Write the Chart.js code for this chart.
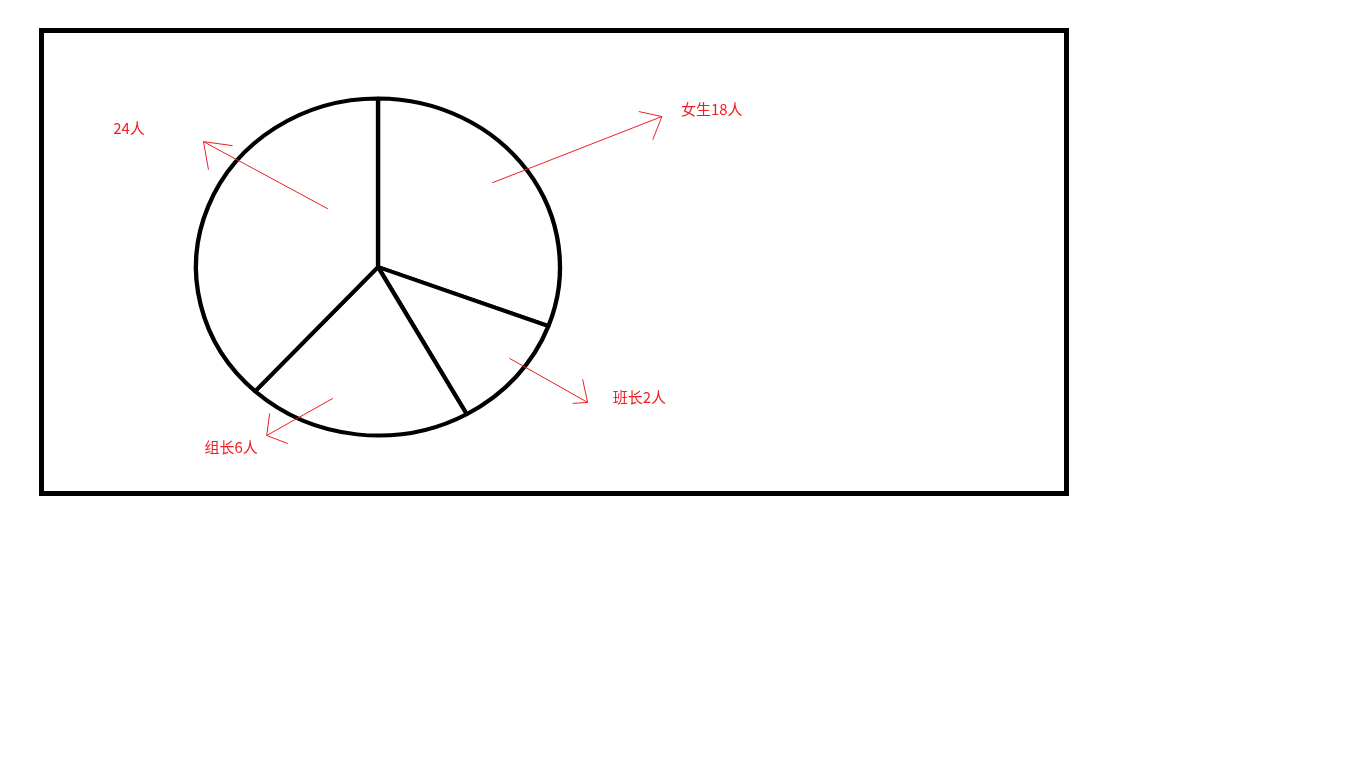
<!DOCTYPE html>
<html>
<head>
<meta charset="utf-8">
<script src="https://cdn.jsdelivr.net/npm/chart.js@4"></script>
<style>
  html,body{margin:0;padding:0;background:#fff;}
  #wrap{position:relative;width:1366px;height:768px;}
  #frame{position:absolute;left:39px;top:28px;width:1020px;height:458px;border:5px solid #000;}
  canvas{position:absolute;left:0;top:0;}
</style>
</head>
<body>
<div id="wrap">
  <div id="frame"></div>
  <canvas id="c" width="1366" height="768"></canvas>
</div>
<script>
// Slice labels (as written on the sketch) and slice shares (% of the drawn circle)
const categories = ['女生18人', '班长2人', '组长6人', '24人'];
const sliceShares = [30.7, 11.2, 19.9, 38.2];

// Callout arrows: offsets from the pie centre, in units of the pie radius (ref radius 170)
const REF_R = 170;
const callouts = [
  {start:[114,-84], tip:[283,-150], h1:[260,-155], h2:[274,-127], text:[302,-157]},
  {start:[131,91],  tip:[209,135],  h1:[204,112],  h2:[194,136],  text:[234,130]},
  {start:[-45,131], tip:[-111,168], h1:[-108,146], h2:[-90,176],  text:[-173,180]},
  {start:[-50,-58], tip:[-174,-125],h1:[-145,-121],h2:[-169,-97], text:[-264,-138]}
];

const STRETCH_X = 1.08;
const RED = '#f01e23';

const ellipsePlugin = {
  id: 'ellipse',
  beforeDatasetsDraw(chart) {
    const arc = chart.getDatasetMeta(0).data[0];
    const ctx = chart.ctx;
    ctx.save();
    ctx.translate(arc.x, arc.y);
    ctx.scale(STRETCH_X, 1);
    ctx.translate(-arc.x, -arc.y);
  },
  afterDatasetsDraw(chart) {
    chart.ctx.restore();
  }
};

const calloutPlugin = {
  id: 'callouts',
  afterDraw(chart) {
    const meta = chart.getDatasetMeta(0);
    const arc = meta.data[0];
    const cx = arc.x, cy = arc.y, k = (arc.outerRadius + 2) / REF_R;
    const P = p => [cx + p[0] * k, cy + p[1] * k];
    const ctx = chart.ctx;
    ctx.save();
    ctx.strokeStyle = RED;
    ctx.lineWidth = 1;
    ctx.fillStyle = RED;
    ctx.font = '15px "Noto Sans CJK SC", "Microsoft YaHei", sans-serif';
    ctx.textBaseline = 'middle';
    ctx.textAlign = 'left';
    callouts.forEach((c, i) => {
      const s = P(c.start), t = P(c.tip), a = P(c.h1), b = P(c.h2), tx = P(c.text);
      ctx.beginPath();
      ctx.moveTo(s[0], s[1]); ctx.lineTo(t[0], t[1]);
      ctx.moveTo(t[0], t[1]); ctx.lineTo(a[0], a[1]);
      ctx.moveTo(t[0], t[1]); ctx.lineTo(b[0], b[1]);
      ctx.stroke();
      ctx.fillText(categories[i], tx[0], tx[1]);
    });
    ctx.restore();
  }
};

new Chart(document.getElementById('c'), {
  type: 'pie',
  data: {
    labels: categories,
    datasets: [{
      data: sliceShares,
      backgroundColor: '#ffffff',
      borderColor: '#000000',
      borderWidth: 4,
      hoverOffset: 0,
      clip: false
    }]
  },
  options: {
    responsive: false,
    animation: false,
    events: [],
    layout: { padding: { left: 207.5, right: 817.5, top: 96.5, bottom: 330.5 } },
    plugins: {
      legend: { display: false },
      tooltip: { enabled: false },
      title: { display: false }
    }
  },
  plugins: [ellipsePlugin, calloutPlugin]
});
</script>
</body>
</html>
